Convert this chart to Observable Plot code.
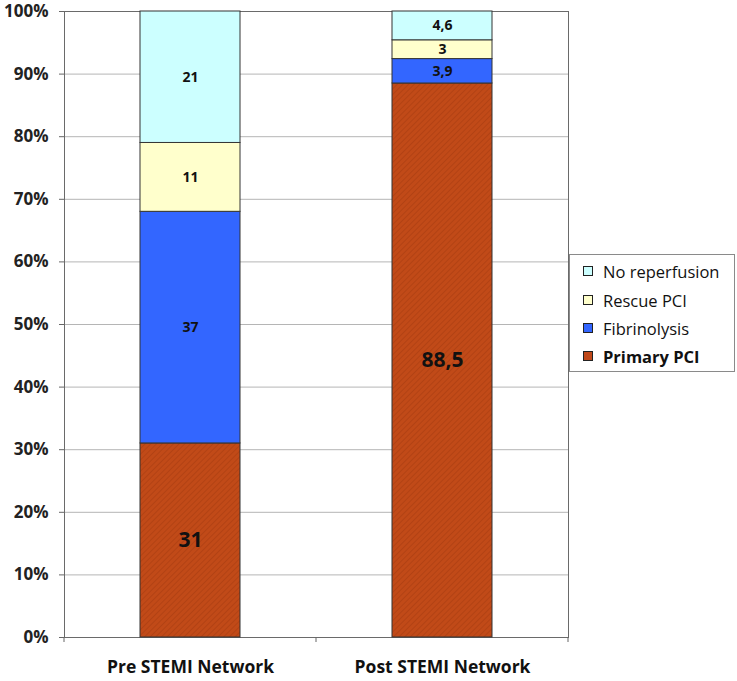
<!DOCTYPE html>
<html><head><meta charset="utf-8">
<script src="https://cdn.jsdelivr.net/npm/d3@7"></script>
<script src="https://cdn.jsdelivr.net/npm/@observablehq/plot@0.6"></script>
<style>
body{margin:0;background:#fff;}
#wrap{position:relative;width:737px;height:681px;font-family:"Open Sans",sans-serif;}
#legend{position:absolute;left:569px;top:254px;width:166px;height:118px;border:1px solid #8a8a8a;box-sizing:border-box;background:#fff;}
.item{position:absolute;left:13px;height:20px;display:flex;align-items:center;font-size:16.5px;color:#111;white-space:nowrap;}
.sw{width:8px;height:8px;border:1px solid #222;margin-right:10px;flex:none;}
</style></head>
<body><div id="wrap"></div>
<script>
const groups = ["Pre STEMI Network", "Post STEMI Network"];
const categories = ["Primary PCI", "Fibrinolysis", "Rescue PCI", "No reperfusion"]; // bottom to top
const preValues = [31, 37, 11, 21];
const postValues = [88.5, 3.9, 3, 4.6];
const yTicks = [0, 10, 20, 30, 40, 50, 60, 70, 80, 90, 100];
const colors = ["url(#hatch)", "#3366FF", "#FFFFCC", "#CCFFFF"];
const swatchColors = ["#C0481A", "#3366FF", "#FFFFCC", "#CCFFFF"];

const data = [];
[preValues, postValues].forEach((vals, gi) => vals.forEach((v, ci) => data.push({group: groups[gi], category: categories[ci], value: v})));

const fmt = v => String(v).replace(".", ",");

const chart = Plot.plot({
  width: 737, height: 681,
  marginLeft: 64, marginRight: 169, marginTop: 11, marginBottom: 44,
  style: {fontFamily: '"Open Sans", sans-serif', background: "#fff", overflow: "visible"},
  x: {domain: groups, padding: 0, label: null},
  y: {domain: [0, 100], label: null},
  color: {domain: categories, range: colors},
  marks: [
    Plot.gridY(yTicks, {stroke: "#b5b5b5", strokeOpacity: 1}),
    Plot.frame({stroke: "#6a6a6a"}),
    Plot.barY(data, Plot.stackY({x: "group", y: "value", z: "category", order: categories, fill: "category", stroke: "#333", strokeWidth: 1, insetLeft: 76, insetRight: 76})),
    Plot.text(data, Plot.stackY({x: "group", y: "value", z: "category", order: categories,
      text: d => fmt(d.value), fontWeight: "bold", fill: "#111",
      fontSize: d => d.category === "Primary PCI" ? 21 : 14})),
    Plot.axisY(yTicks, {tickFormat: d => d + "%", tickSize: 5, tickPadding: 11, fontSize: 17, fontWeight: "bold", fill: "#222", stroke: "#666", label: null}),
    Plot.axisX({tickSize: 0, tickPadding: 23, fontSize: 17.5, fontWeight: "bold", fill: "#111", label: null})
  ]
});

// band boundary ticks on the x axis, computed from Plot's x scale
const xs = chart.scale("x");
const ns = "http://www.w3.org/2000/svg";
const g = document.createElementNS(ns, "g");
const bw = xs.bandwidth;
const edges = [];
groups.forEach((gname, i) => { const x0 = xs.apply(gname); if (i === 0) edges.push(x0); edges.push(x0 + bw); });
const y0 = chart.scale("y").apply(0);
edges.forEach(x => {
  const l = document.createElementNS(ns, "line");
  l.setAttribute("x1", x); l.setAttribute("x2", x);
  l.setAttribute("y1", y0); l.setAttribute("y2", y0 + 5);
  l.setAttribute("stroke", "#666");
  g.appendChild(l);
});
chart.appendChild(g);

// hatch pattern for Primary PCI
const defs = document.createElementNS(ns, "defs");
defs.innerHTML = `<pattern id="hatch" patternUnits="userSpaceOnUse" width="4" height="4" patternTransform="rotate(45)">
<rect width="4" height="4" fill="#C14A18"/><line x1="0" y1="0" x2="0" y2="4" stroke="#A83C10" stroke-width="1.2"/></pattern>`;
chart.insertBefore(defs, chart.firstChild);

const wrap = document.getElementById("wrap");
wrap.appendChild(chart);

const legend = document.createElement("div");
legend.id = "legend";
const tops = [6, 35, 63, 91];
[...categories].reverse().forEach((c, i) => {
  const idx = categories.indexOf(c);
  const it = document.createElement("div");
  it.className = "item";
  it.style.top = tops[i] + "px";
  if (c === "Primary PCI") it.style.fontWeight = "bold";
  it.innerHTML = `<span class="sw" style="background:${swatchColors[idx]}"></span><span>${c}</span>`;
  legend.appendChild(it);
});
wrap.appendChild(legend);
</script></body></html>
